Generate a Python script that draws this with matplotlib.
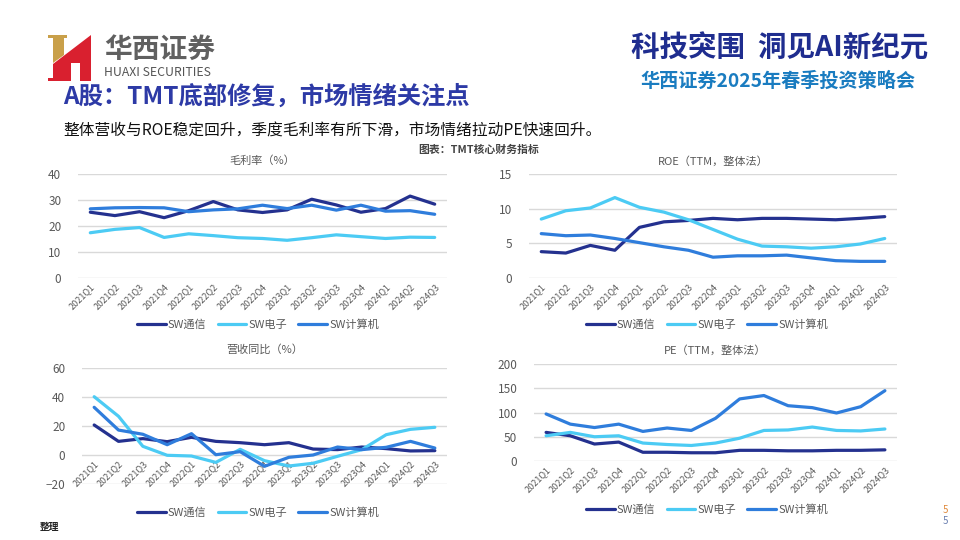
import matplotlib
matplotlib.use("Agg")
import matplotlib.pyplot as plt
from matplotlib.patches import Polygon

plt.rcParams["font.family"] = ["Noto Sans CJK SC", "DejaVu Sans"]

W, H = 960, 540

quarters = ["2021Q1", "2021Q2", "2021Q3", "2021Q4", "2022Q1", "2022Q2", "2022Q3",
            "2022Q4", "2023Q1", "2023Q2", "2023Q3", "2023Q4", "2024Q1", "2024Q2", "2024Q3"]
series_names = ["SW通信", "SW电子", "SW计算机"]

gross_comm = [25.3, 24.0, 25.5, 23.2, 25.9, 29.4, 26.2, 25.2, 26.2, 30.3, 28.1, 25.3, 26.7, 31.5, 28.4]
gross_elec = [17.4, 18.7, 19.4, 15.6, 17.0, 16.3, 15.5, 15.2, 14.5, 15.5, 16.6, 15.9, 15.2, 15.7, 15.6]
gross_comp = [26.6, 27.0, 27.1, 27.0, 25.5, 26.2, 26.6, 28.0, 26.7, 28.0, 26.1, 28.0, 25.7, 25.9, 24.5]

roe_comm = [3.8, 3.6, 4.7, 4.0, 7.3, 8.1, 8.3, 8.6, 8.4, 8.6, 8.6, 8.5, 8.4, 8.6, 8.85]
roe_elec = [8.5, 9.7, 10.1, 11.6, 10.2, 9.5, 8.4, 7.0, 5.6, 4.6, 4.5, 4.3, 4.5, 4.9, 5.7]
roe_comp = [6.4, 6.1, 6.2, 5.7, 5.1, 4.5, 4.0, 3.0, 3.2, 3.2, 3.3, 2.9, 2.5, 2.4, 2.4]

rev_comm = [20.7, 9.4, 11.3, 9.2, 12.2, 9.4, 8.5, 7.1, 8.5, 4.1, 3.7, 5.5, 4.4, 2.8, 3.0]
rev_elec = [40.2, 26.7, 6.0, -0.2, -0.7, -5.1, 3.9, -3.9, -7.6, -5.7, -0.9, 3.7, 14.0, 17.7, 19.1]
rev_comp = [32.9, 17.2, 14.3, 7.1, 14.7, 0.2, 2.3, -7.8, -1.6, 0.0, 5.5, 3.7, 5.3, 9.4, 4.8]

pe_comm = [59, 52, 35, 39, 18, 18, 17, 17, 22, 22, 21, 21, 22, 22, 23]
pe_elec = [52, 59, 50, 52, 37, 34, 32, 37, 47, 63, 64, 70, 63, 62, 66]
pe_comp = [97, 76, 69, 76, 61, 68, 63, 88, 128, 135, 114, 110, 99, 112, 145]

colors = ["#24318f", "#4ccbf4", "#2f7ddc"]
gray = "#595959"


def fx(x):
    return x / W


def fy(y):
    return 1 - y / H


fig = plt.figure(figsize=(9.6, 5.4), dpi=100)
fig.patch.set_facecolor("white")


def panel(rect_px, title, title_y, data, ylim, yticks, legend_xy):
    x0, x1, ytop, ybot = rect_px
    ax = fig.add_axes([fx(x0), fy(ybot), fx(x1) - fx(x0), fy(ytop) - fy(ybot)])
    xs = range(len(quarters))
    lines = []
    for vals, c, name in zip(data, colors, series_names):
        (ln,) = ax.plot(xs, vals, color=c, lw=2.3, label=name, solid_capstyle="round")
        lines.append(ln)
    ax.set_xlim(-0.5, len(quarters) - 0.5)
    ax.set_ylim(*ylim)
    ax.set_yticks(yticks)
    ax.yaxis.grid(True, color="#d9d9d9", lw=1)
    ax.set_axisbelow(True)
    for s in ax.spines.values():
        s.set_visible(False)
    ax.spines["bottom"].set_position(("data", 0))
    ax.set_xticks(list(xs))
    ax.set_xticklabels(quarters, rotation=45, ha="right", rotation_mode="anchor",
                       fontsize=6.5, color=gray)
    ax.tick_params(length=0, pad=3)
    ax.tick_params(axis="y", labelsize=8.5, labelcolor=gray, pad=12)
    fig.text(fx((x0 + x1) / 2), fy(title_y), title, ha="center", va="center",
             fontsize=8, color=gray)
    fig.legend(lines, series_names, loc="center", ncol=3, frameon=False,
               bbox_to_anchor=(fx(legend_xy[0]), fy(legend_xy[1])),
               fontsize=8, handlelength=2.6, columnspacing=1.0, handletextpad=0.2,
               labelcolor=gray)
    return ax


panel((78, 447, 174, 278), "毛利率（%）", 161,
      [gross_comm, gross_elec, gross_comp], (0, 40), [0, 10, 20, 30, 40], (258, 325))
panel((529, 897, 174, 278), "ROE（TTM，整体法）", 161,
      [roe_comm, roe_elec, roe_comp], (0, 15), [0, 5, 10, 15], (707, 325))
panel((82, 447, 368, 484), "营收同比（%）", 349,
      [rev_comm, rev_elec, rev_comp], (-20, 60), [-20, 0, 20, 40, 60], (258, 513))
panel((534, 897, 364, 461), "PE（TTM，整体法）", 350,
      [pe_comm, pe_elec, pe_comp], (0, 200), [0, 50, 100, 150, 200], (707, 510))


# logo
def poly(pts, color):
    fig.add_artist(Polygon([(fx(x), fy(y)) for x, y in pts], closed=True,
                           facecolor=color, edgecolor="none", transform=fig.transFigure))


poly([(48, 35), (67, 35), (67, 38), (64, 38), (64, 55), (53, 63), (53, 38), (48, 38)], "#c9a04a")
poly([(53, 64), (91, 35), (91, 81), (80, 81), (80, 63), (71, 63), (71, 81),
      (48, 81), (48, 78), (53, 78)], "#d9202f")
fig.text(fx(104), fy(50), "华西证券", fontsize=20, color="#606060", va="center",
         fontweight="bold")
fig.text(fx(104), fy(73), "HUAXI SECURITIES", fontsize=8.8, color="#555555", va="center")

fig.text(fx(63), fy(97), "A股：TMT底部修复，市场情绪关注点", fontsize=17.5,
         color="#2d3aa6", fontweight="bold", va="center")
fig.text(fx(63), fy(131), "整体营收与ROE稳定回升，季度毛利率有所下滑，市场情绪拉动PE快速回升。",
         fontsize=11.3, color="#111111", va="center")
fig.text(fx(418), fy(150), "图表：TMT核心财务指标", fontsize=7.8, color="#444444",
         va="center", fontweight="bold")

fig.text(fx(928), fy(48), "科技突围  洞见AI新纪元", fontsize=20.5, color="#1f2d8f",
         fontweight="bold", ha="right", va="center")
fig.text(fx(915), fy(81), "华西证券2025年春季投资策略会", fontsize=13.8, color="#1a7cc0",
         fontweight="bold", ha="right", va="center")

fig.text(fx(40), fy(527), "整理", fontsize=7, color="#222222", fontweight="bold", va="center")
fig.text(fx(945), fy(510), "5", fontsize=7, color="#e08a3c", ha="center", va="center")
fig.text(fx(945), fy(521), "5", fontsize=7, color="#6a7fb0", ha="center", va="center")

fig.savefig("out.png", dpi=100)
